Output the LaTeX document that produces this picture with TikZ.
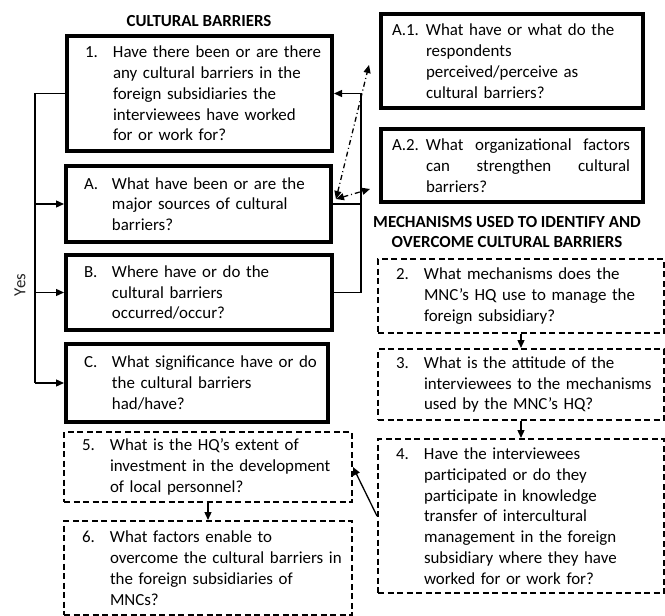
\documentclass[tikz,border=0pt]{standalone}
\usepackage{fontspec}
\setmainfont{Carlito}
\usetikzlibrary{arrows.meta}
\newcommand\qfont{\fontsize{16.9}{20.8}\selectfont}
\def\qpad{18pt}
\newcommand\qitem[3][28pt]{\leftskip=\qpad\hyphenpenalty=10000\hangindent=#1\hangafter=1\noindent\makebox[#1][l]{#2}{\let\\\newline#3}\par}
\tikzset{
  question/.style={draw,line width=4pt,anchor=north west,inner xsep=0pt,inner ysep=0pt,align=left,font=\qfont},
  mechanism/.style={question,line width=2pt,dash pattern=on 6pt off 3.5pt},
  subquestion/.style={question,execute at begin node={\def\qpad{11pt}}},
  heading/.style={font=\bfseries\qfont,align=center},
  link/.style={line width=1.3pt,-{Triangle[length=8pt,width=7pt]}},
  hint/.style={line width=1.3pt,dash pattern=on 5pt off 3pt on 1pt off 3pt,{Triangle[length=8pt,width=7pt]}-{Triangle[length=8pt,width=7pt]}}
}

\begin{document}
\begin{tikzpicture}[x=1pt,y=-1pt]
  \useasboundingbox (0,0) rectangle (665,616);

  % Headings
  \node[heading] (hcult) at (199,21) {CULTURAL BARRIERS};
  \node[heading] (hmech) at (507,232) {MECHANISMS USED TO IDENTIFY AND\\OVERCOME CULTURAL BARRIERS};

  % Cultural barriers
  \node[question,text width=265pt,minimum height=115pt] (q1) at (65,34)
    {\qitem{1.}{Have there been or are there\\any cultural barriers in the\\foreign subsidiaries the\\interviewees have worked\\for or work for?}};
  \node[question,text width=265pt,minimum height=76pt] (qa) at (64,164)
    {\qitem{A.}{What have been or are the\\major sources of cultural\\barriers?}};
  \node[question,text width=266pt,minimum height=75pt] (qb) at (64,253)
    {\qitem{B.}{Where have or do the\\cultural barriers\\occurred/occur?}};
  \node[question,text width=262pt,minimum height=78pt] (qc) at (64,342)
    {\qitem{C.}{What significance have or do\\the cultural barriers\\had/have?}};
  \node[subquestion,text width=262pt,minimum height=94pt] (qa1) at (379,12)
    {\qitem[34pt]{A.1.}{What have or what do the\\respondents\\perceived/perceive as\\cultural barriers?}};
  \node[subquestion,align=justify,text width=262pt,minimum height=73pt] (qa2) at (379,127)
    {\rightskip=13pt\qitem[34pt]{A.2.}{What organizational factors\linebreak can strengthen cultural\linebreak barriers?}};

  % Mechanisms
  \node[mechanism,text width=286pt,minimum height=74pt] (q2) at (377,258)
    {\qitem{2.}{What mechanisms does the\\MNC’s HQ use to manage the\\foreign subsidiary?}};
  \node[mechanism,text width=286pt,minimum height=71pt] (q3) at (377,348)
    {\qitem{3.}{What is the attitude of the\\interviewees to the mechanisms\\used by the MNC’s HQ?}};
  \node[mechanism,text width=286pt,minimum height=154pt] (q4) at (377,438)
    {\qitem{4.}{Have the interviewees\\participated or do they\\participate in knowledge\\transfer of intercultural\\management in the foreign\\subsidiary where they have\\worked for or work for?}};
  \node[mechanism,text width=288pt,minimum height=70pt] (q5) at (63,431)
    {\qitem{5.}{What is the HQ’s extent of\\investment in the development\\of local personnel?}};
  \node[mechanism,text width=288pt,minimum height=94pt] (q6) at (63,520)
    {\qitem{6.}{What factors enable to\\overcome the cultural barriers in\\the foreign subsidiaries of\\MNCs?}};

  % Yes branch
  \coordinate (ytop) at (35,0);
  \draw[line width=1.3pt] (q1.west) -- (q1.west -| ytop) -- (qc.west -| ytop);
  \draw[link] (qa.west -| ytop) -- (qa.west);
  \draw[link] (qb.west -| ytop) -- (qb.west);
  \draw[link] (qc.west -| ytop) -- (qc.west);
  \node[rotate=90,font=\qfont,text=black!85] (yes) at (20,285) {Yes};

  % Back to question 1
  \draw[link] (qb.east) -- ++(27,0) coordinate (rbot) |- (q1.east);
  \draw[line width=1.3pt] (qa.east) -- (qa.east -| rbot);

  % Sub-questions
  \coordinate (afoot) at ([xshift=3pt,yshift=5pt]qa.east);
  \draw[hint] (afoot) -- ([xshift=-10pt,yshift=-4pt]qa1.west);
  \draw[hint] (afoot) -- ([xshift=-9pt,yshift=15pt]qa2.south west);

  % Mechanism chain
  \draw[link] (q2.south) -- (q3.north);
  \draw[link] (q3.south) -- (q4.north);
  \draw[link] (q4.west) -- (q5.east);
  \draw[link] (q5.south) -- (q6.north);
\end{tikzpicture}
\end{document}
